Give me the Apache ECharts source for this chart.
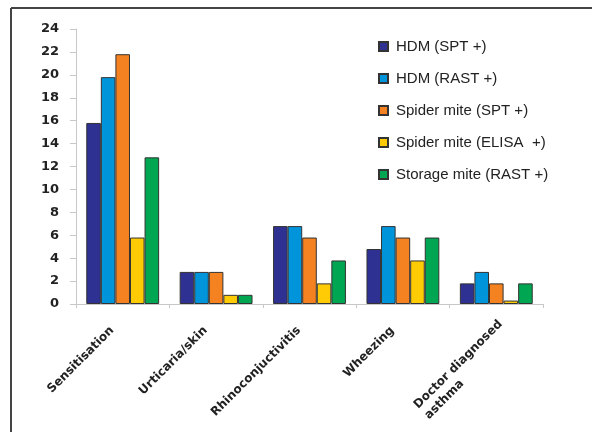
<!DOCTYPE html>
<html lang="en">
<head>
    <meta charset="UTF-8">
    <title>Mite sensitisation</title>
    <script type="text/javascript" src="https://cdn.jsdelivr.net/npm/echarts@6/dist/echarts.min.js"></script>
    <style>
        html, body { margin: 0; padding: 0; background: #fff; }
        #chart { width: 592px; height: 432px; }
    </style>
</head>
<body>
<div id="chart"></div>
<script type="text/javascript">
    var categories = ['Sensitisation', 'Urticaria/skin', 'Rhinoconjuctivitis', 'Wheezing', 'Doctor diagnosed\nasthma'];
    var seriesNames = ['HDM (SPT +)', 'HDM (RAST +)', 'Spider mite (SPT +)', 'Spider mite (ELISA  +)', 'Storage mite (RAST +)'];
    var hdmSpt = [15.8, 2.8, 6.8, 4.8, 1.8];
    var hdmRast = [19.8, 2.8, 6.8, 6.8, 2.8];
    var spiderSpt = [21.8, 2.8, 5.8, 5.8, 1.8];
    var spiderElisa = [5.8, 0.8, 1.8, 3.8, 0.3];
    var storageRast = [12.8, 0.8, 3.8, 5.8, 1.8];
    var colors = ['#2e3192', '#0095da', '#f58220', '#ffcb05', '#00a651'];

    var chart = echarts.init(document.getElementById('chart'));
    var values = [hdmSpt, hdmRast, spiderSpt, spiderElisa, storageRast];
    var series = values.map(function (d, i) {
        return {
            name: seriesNames[i],
            type: 'bar',
            data: d,
            barGap: '0%',
            barCategoryGap: '22%',
            itemStyle: { color: colors[i], borderColor: '#333', borderWidth: 1 }
        };
    });
    // two-line label sits a bit higher/right, as in the original
    var xData = categories.map(function (c) {
        if (c.indexOf('\n') < 0) return c;
        return { value: c, textStyle: { padding: [0, 0, 0, 0], verticalAlign: 'top' } };
    });

    var option = {
        animation: false,
        backgroundColor: '#fff',
        textStyle: { fontFamily: 'DejaVu Sans' },
        grid: { left: 76, right: 49, top: 29, bottom: 128, containLabel: false },
        legend: {
            orient: 'vertical',
            left: 373,
            top: 34,
            itemWidth: 9,
            itemHeight: 9,
            itemGap: 17,
            icon: 'rect',
            textStyle: { fontFamily: 'Liberation Sans', fontSize: 15, color: '#222', padding: [0, 0, 0, 3] },
            data: seriesNames
        },
        xAxis: {
            type: 'category',
            data: xData,
            axisLine: { lineStyle: { color: '#c8c8c8' } },
            axisTick: { show: true, length: 4, lineStyle: { color: '#c8c8c8' } },
            axisLabel: {
                rotate: 45,
                interval: 0,
                margin: 14,
                padding: [0, 15, 0, 0],
                fontFamily: 'DejaVu Sans',
                fontWeight: 'bold',
                fontSize: 12,
                color: '#222',
                formatter: function (v) {
                    return v.split('\n').map(function (l, i) {
                        return i === 0 ? '{a|' + l + '}' : '{b|' + l + '}';
                    }).join('\n');
                },
                rich: {
                    a: { fontFamily: 'DejaVu Sans', fontWeight: 'bold', fontSize: 12, color: '#222' },
                    b: { fontFamily: 'DejaVu Sans', fontWeight: 'bold', fontSize: 12, color: '#222', align: 'left', lineHeight: 18 }
                }
            }
        },
        yAxis: {
            type: 'value',
            min: 0,
            max: 24,
            interval: 2,
            splitLine: { show: false },
            axisLine: { show: true, lineStyle: { color: '#c8c8c8' } },
            axisTick: { show: true, length: 6, lineStyle: { color: '#c8c8c8' } },
            axisLabel: {
                margin: 17,
                fontFamily: 'DejaVu Sans',
                fontWeight: 'bold',
                fontSize: 13,
                color: '#222'
            }
        },
        graphic: [
            { type: 'line', shape: { x1: 11, y1: 8, x2: 592, y2: 8 }, style: { stroke: '#444', lineWidth: 2 } },
            { type: 'line', shape: { x1: 11, y1: 8, x2: 11, y2: 432 }, style: { stroke: '#444', lineWidth: 2 } }
        ],
        series: series
    };
    chart.setOption(option);
</script>
</body>
</html>
